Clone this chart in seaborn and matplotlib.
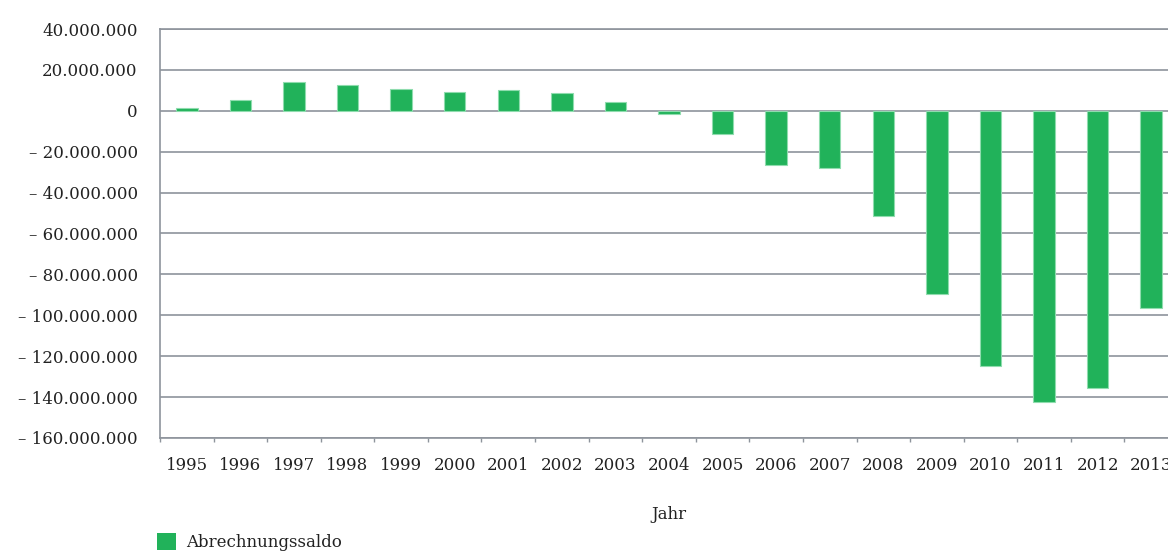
import matplotlib
matplotlib.use("Agg")
import matplotlib.pyplot as plt
from matplotlib.ticker import FuncFormatter, FixedLocator
from matplotlib.patches import Patch
import seaborn as sns
import pandas as pd

years = ["1995", "1996", "1997", "1998", "1999", "2000", "2001", "2002", "2003", "2004",
         "2005", "2006", "2007", "2008", "2009", "2010", "2011", "2012", "2013"]
saldo = [1.5e6, 5.2e6, 14.2e6, 12.4e6, 10.9e6, 9.3e6, 10.1e6, 8.6e6, 4.5e6, -1.7e6,
         -11.3e6, -26.4e6, -28.2e6, -51.4e6, -89.6e6, -124.9e6, -142.3e6, -135.6e6, -96.6e6]
y_ticks = [40e6, 20e6, 0, -20e6, -40e6, -60e6, -80e6, -100e6, -120e6, -140e6, -160e6]
series_name = "Abrechnungssaldo"
x_title = "Jahr"

GREEN = "#21b25a"
GRID = "#8e949c"
TEXT = "#222222"
FS = 12

sns.set_theme(style="white")
plt.rcParams["font.family"] = ["DejaVu Serif"]

df = pd.DataFrame({"Jahr": years, "Saldo": saldo})

fig = plt.figure(figsize=(11.68, 5.54), dpi=100)
W, H = 1168, 554
ax = fig.add_axes([160 / W, 116 / H, 1018 / W, 409 / H])

sns.barplot(data=df, x="Jahr", y="Saldo", color=GREEN, width=0.4, ax=ax,
            edgecolor="#8fdcae", linewidth=0.8, saturation=1)

ax.set_xlim(-0.5, len(years) - 0.5)
ax.set_ylim(-160e6, 40e6)
ax.yaxis.set_major_locator(FixedLocator(y_ticks))


def fmt(v, pos):
    n = int(round(abs(v)))
    s = f"{n:,}".replace(",", ".")
    if v < 0:
        return "\u2013 " + s
    return s


ax.yaxis.set_major_formatter(FuncFormatter(fmt))
ax.grid(axis="y", color=GRID, linewidth=1.2)
ax.grid(axis="x", visible=False)
ax.set_axisbelow(True)

ax.spines["right"].set_visible(False)
for side in ["top", "left", "bottom"]:
    ax.spines[side].set_color(GRID)
    ax.spines[side].set_linewidth(1.2)

ax.tick_params(axis="y", length=0, pad=16, labelsize=FS, labelcolor=TEXT)
ax.tick_params(axis="x", which="major", length=0, pad=14, labelsize=FS, labelcolor=TEXT)
ax.xaxis.set_minor_locator(FixedLocator([i + 0.5 for i in range(-1, len(years))]))
ax.tick_params(axis="x", which="minor", length=3, width=1, color=GRID, direction="out", bottom=True)

ax.set_xlabel(x_title, fontsize=FS, color=TEXT, labelpad=23)
ax.set_ylabel("")

handle = Patch(facecolor=GREEN, edgecolor="none", label=series_name)
fig.legend(handles=[handle], loc="lower left", bbox_to_anchor=(150 / W, -4 / H),
           frameon=False, fontsize=FS, handlelength=1.15, handleheight=1.15,
           handletextpad=0.6, labelcolor=TEXT, borderaxespad=0)

fig.savefig("out.png", dpi=100)
